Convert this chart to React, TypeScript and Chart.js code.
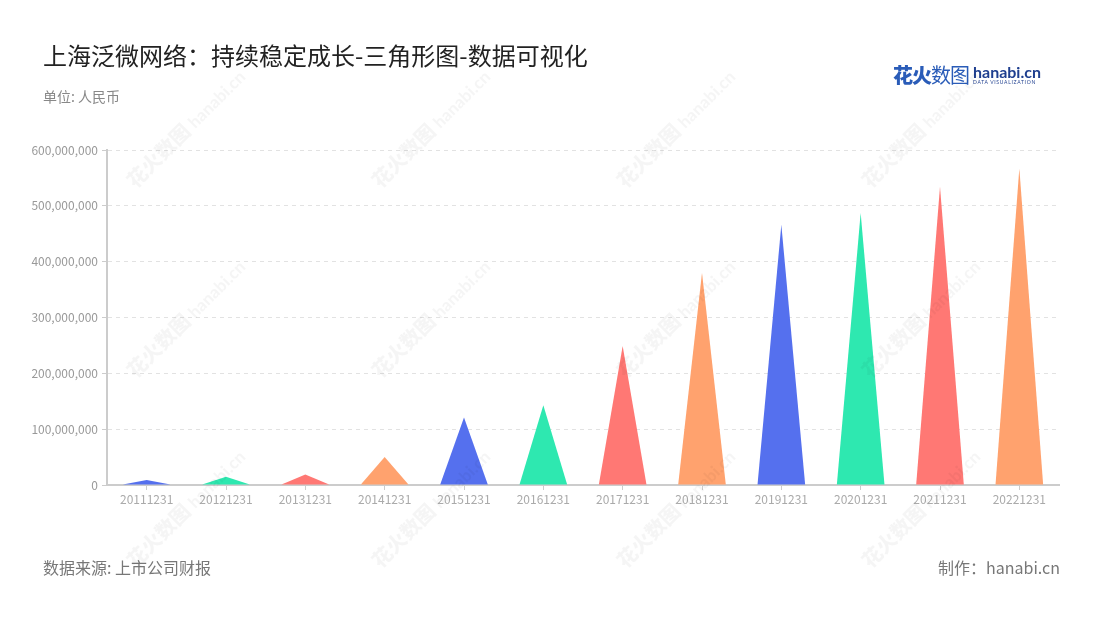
import React, { useEffect, useRef } from "react";
import { Chart, registerables } from "chart.js";

Chart.register(...registerables);

const categories = [
  "20111231", "20121231", "20131231", "20141231", "20151231", "20161231",
  "20171231", "20181231", "20191231", "20201231", "20211231", "20221231",
];
const revenue = [
  9000000, 15000000, 19000000, 50000000, 121000000, 143000000,
  249000000, 380000000, 466000000, 487000000, 534000000, 567000000,
];
const palette = ["#5570EE", "#2EE8B0", "#FF7874", "#FFA26E"];
const yTicks = [0, 100000000, 200000000, 300000000, 400000000, 500000000, 600000000];

const FONT = "'Noto Sans CJK SC', 'Noto Sans', sans-serif";

const trianglePlugin = {
  id: "triangles",
  beforeDatasetDraw(chart: any, args: any) {
    const meta = args.meta;
    const ctx = chart.ctx;
    const area = chart.chartArea;
    ctx.save();
    ctx.beginPath();
    ctx.rect(area.left, area.top - 20, area.right - area.left, area.bottom - area.top + 20);
    ctx.clip();
    meta.data.forEach((bar: any, i: number) => {
      const p = bar.getProps(["x", "y", "base", "width"], true);
      ctx.beginPath();
      ctx.moveTo(p.x - p.width / 2, p.base);
      ctx.lineTo(p.x, p.y);
      ctx.lineTo(p.x + p.width / 2, p.base);
      ctx.closePath();
      ctx.fillStyle = palette[i % palette.length];
      ctx.fill();
    });
    ctx.restore();
    return false;
  },
};

const marks = [
  { x: 185, y: 125 }, { x: 430, y: 125 }, { x: 675, y: 125 }, { x: 920, y: 125 },
  { x: 185, y: 315 }, { x: 430, y: 315 }, { x: 675, y: 315 }, { x: 920, y: 315 },
  { x: 185, y: 505 }, { x: 430, y: 505 }, { x: 675, y: 505 }, { x: 920, y: 505 },
];

export default function App() {
  const ref = useRef<HTMLCanvasElement | null>(null);
  useEffect(() => {
    if (!ref.current) return;
    const chart = new Chart(ref.current, {
      type: "bar",
      data: {
        labels: categories,
        datasets: [
          {
            data: revenue,
            backgroundColor: categories.map((_, i) => palette[i % palette.length]),
            barPercentage: 0.6,
            categoryPercentage: 1,
          },
        ],
      },
      options: {
        responsive: false,
        animation: false,
        layout: { padding: { left: 0, right: 41, top: 150, bottom: 105 } },
        plugins: { legend: { display: false }, tooltip: { enabled: false } },
        scales: {
          x: {
            grid: { display: true, offset: false, drawOnChartArea: false, drawTicks: true, tickLength: 5, tickColor: "#cccccc", tickWidth: 1 },
            border: { display: true, color: "#cccccc", width: 2 },
            ticks: { color: "#aaaaaa", font: { family: FONT, size: 12 }, padding: 2, maxRotation: 0, autoSkip: false },
            afterFit: (s: any) => { s.height = 30; },
          },
          y: {
            min: 0,
            max: 600000000,
            afterBuildTicks: (s: any) => { s.ticks = yTicks.map((v) => ({ value: v })); },
            grid: { color: "#e2e2e2", lineWidth: 1, tickLength: 5, tickColor: "#cccccc", tickBorderDash: [], drawTicks: true },
            border: { display: true, color: "#cccccc", width: 2, dash: [4, 4] },
            ticks: {
              color: "#999999",
              font: { family: FONT, size: 12 },
              padding: 4,
              callback: (v: any) => Number(v).toLocaleString("en-US"),
            },
            afterFit: (s: any) => { s.width = 107; },
          },
        },
      },
      plugins: [trianglePlugin],
    });
    return () => chart.destroy();
  }, []);

  return (
    <div style={{ position: "absolute", left: 0, top: 0, width: 1100, height: 620, background: "#fff", overflow: "hidden", fontFamily: FONT }}>
      <canvas ref={ref} width={1100} height={620} style={{ position: "absolute", left: 0, top: 0 }} />
      <div style={{ position: "absolute", left: 43, top: 38, fontSize: 24, color: "#222", whiteSpace: "nowrap", lineHeight: "34px" }}>
        上海泛微网络：持续稳定成长-三角形图-数据可视化
      </div>
      <div style={{ position: "absolute", left: 43, top: 86, fontSize: 14, color: "#888", whiteSpace: "nowrap", lineHeight: "20px" }}>
        单位: 人民币
      </div>
      <div style={{ position: "absolute", left: 43, top: 555, fontSize: 16, color: "#777", whiteSpace: "nowrap", lineHeight: "24px" }}>
        数据来源: 上市公司财报
      </div>
      <div style={{ position: "absolute", right: 40, top: 555, fontSize: 16, color: "#777", whiteSpace: "nowrap", lineHeight: "24px" }}>
        制作：hanabi.cn
      </div>
      <div style={{ position: "absolute", left: 893, top: 60, whiteSpace: "nowrap", display: "flex", alignItems: "center" }}>
        <span style={{ fontSize: 20, color: "#2A5CB8", fontWeight: 900, letterSpacing: -1 }}>花火</span>
        <span style={{ fontSize: 20, color: "#2A5CB8", fontWeight: 400, letterSpacing: -1 }}>数图</span>
        <span style={{ display: "inline-flex", flexDirection: "column", marginLeft: 4, lineHeight: 1 }}>
          <span style={{ fontSize: 16, color: "#1F3F8F", fontWeight: 700, fontFamily: "Lato, sans-serif" }}>hanabi.cn</span>
          <span style={{ fontSize: 5, color: "#1F3F8F", letterSpacing: 0.7, fontFamily: "Lato, sans-serif" }}>DATA VISUALIZATION</span>
        </span>
      </div>
      {marks.map((m, i) => (
        <div
          key={i}
          style={{
            position: "absolute",
            left: m.x - 80,
            top: m.y - 12,
            width: 160,
            textAlign: "center",
            transform: "rotate(-45deg)",
            fontSize: 20,
            fontWeight: 900,
            color: "rgba(0,0,0,0.04)",
            whiteSpace: "nowrap",
            pointerEvents: "none",
          }}
        >
          花火数图 <span style={{ fontFamily: "Lato, sans-serif", fontSize: 17 }}>hanabi.cn</span>
        </div>
      ))}
    </div>
  );
}
